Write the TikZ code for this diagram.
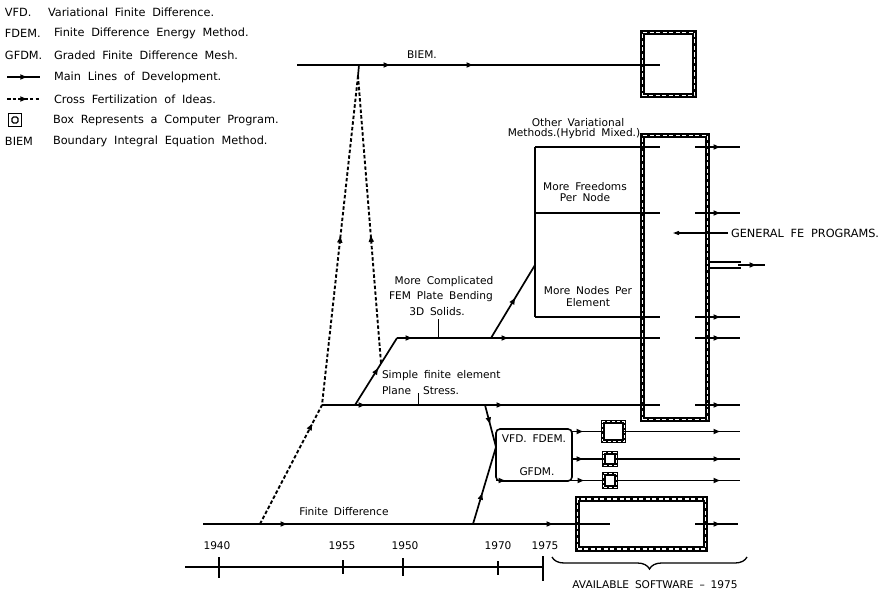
\documentclass[tikz,border=0pt]{standalone}
\usepackage{fontspec}
\setmainfont{DejaVu Sans}
\usetikzlibrary{arrows.meta,decorations.markings,decorations.pathreplacing,calc}
\newcommand\dlfont{\fontsize{10.6}{12}\selectfont\spaceskip=0.55em plus 0.1em\relax}
\newcommand\dlbigfont{\fontsize{11.3}{12}\selectfont\spaceskip=0.6em plus 0.1em\relax}
\begin{document}
\begin{tikzpicture}[x=1pt,y=-1pt,
  every node/.style={inner sep=0pt, outer sep=0pt},
  lab/.style={font=\dlfont},
  leg/.style={font=\dlbigfont, anchor=west},
  main/.style={line width=1.7pt},
  cross/.style={line width=1.9pt, dash pattern=on 3.5pt off 2.2pt},
  mk/.style={postaction={decorate,decoration={markings,mark=at position #1 with {\arrow{Triangle[length=6.5pt,width=5pt]}}}}},
  hbox/.style={draw, line width=5.5pt, postaction={draw=white, line width=1.8pt, dash pattern=on 4pt off 2.5pt}},
  sbox/.style={draw, line width=3.8pt, postaction={draw=white, line width=1.3pt, dash pattern=on 3pt off 2pt}},
  rbox/.style={draw, line width=1.6pt, rounded corners=4pt},
]
\useasboundingbox (0,0) rectangle (880,594);

% ---------------- legend
\node[leg] (lg1a) at (5,12) {VFD.};
\node[leg] (lg1b) at (48,12) {Variational Finite Difference.};
\node[leg] (lg2a) at (5,33) {FDEM.};
\node[leg] (lg2b) at (54,33) {Finite Difference Energy Method.};
\node[leg] (lg3a) at (5,55) {GFDM.};
\node[leg] (lg3b) at (54,55) {Graded Finite Difference Mesh.};
\coordinate (lg4s) at (7,77); \coordinate (lg4e) at (40,77);
\draw[main,mk=0.6] (lg4s) -- (lg4e);
\node[leg] (lg4b) at (54,77) {Main Lines of Development.};
\coordinate (lg5s) at (7,99); \coordinate (lg5e) at (40,99);
\draw[cross,mk=0.6] (lg5s) -- (lg5e);
\node[leg] (lg5b) at (54,99) {Cross Fertilization of Ideas.};
\node[draw,line width=1.5pt,minimum width=13pt,minimum height=13pt] (lg6s) at (15,120) {};
\node[draw,line width=1.2pt,rounded corners=1.5pt,minimum width=6pt,minimum height=6pt] (lg6i) at (lg6s.center) {};
\node[leg] (lg6b) at (53,120) {Box Represents a Computer Program.};
\node[leg] (lg7a) at (5,141) {BIEM};
\node[leg] (lg7b) at (53,141) {Boundary Integral Equation Method.};

% ---------------- boxes
\node[hbox,minimum width=52pt,minimum height=63pt] (topbox) at (668.5,64) {};
\node[hbox,minimum width=65pt,minimum height=284pt] (big) at (675,277.5) {};
\node[sbox,minimum width=21.5pt,minimum height=19.5pt] (s1) at (613.5,431.5) {};
\node[sbox,minimum width=12.5pt,minimum height=12.5pt] (s2) at (610,459) {};
\node[sbox,minimum width=12.5pt,minimum height=13.5pt] (s3) at (610,480.5) {};
\node[hbox,minimum width=128pt,minimum height=50pt] (bot) at (641.5,524) {};
\node[rbox,minimum width=76pt,minimum height=52pt] (vfd) at (534,455) {};
\node[lab] (vfdt1) at (534,439) {VFD. FDEM.};
\node[lab] (vfdt2) at (537,472) {GFDM.};

% ---------------- BIEM line
\coordinate (b0) at (297,65);
\coordinate (b1) at (660,65);
\draw[main,mk=93pt,mk=176pt] (b0) -- (b1);
\node[lab] (biem) at (422,55) {BIEM.};
\coordinate (t0) at (359,65);
\coordinate (t1) at (358,76);
\draw[main] (t0) -- (t1);

% ---------------- cross fertilization
\coordinate (fdx) at (260,524);
\coordinate (fe0) at (322,405);
\coordinate (dr0) at (381,363);
\draw[cross,mk=113pt,mk=304pt] (fdx) -- (fe0) -- (t1);
\draw[cross,mk=128pt] (dr0) -- (t1);

% ---------------- finite element lines
\coordinate (fe1) at (660,405);
\draw[main,mk=43pt,mk=181pt] (fe0) -- (fe1);
\coordinate (d1a) at (355,405);
\coordinate (d1b) at (397,338);
\draw[main,mk=0.55] (d1a) -- (d1b);
\coordinate (up1) at (660,338);
\draw[main,mk=15pt,mk=111pt] (d1b) -- (up1);
\coordinate (d2a) at (491,338);
\coordinate (d2b) at (535,265);
\draw[main,mk=0.55] (d2a) -- (d2b);
\coordinate (v0) at (535,147);
\coordinate (v1) at (535,317);
\coordinate (v2) at (535,213);
\draw[main] (v0) -- (v1);
\coordinate (h1) at (660,147);
\coordinate (h2) at (660,213);
\coordinate (h3) at (660,317);
\draw[main] (v0) -- (h1);
\draw[main] (v2) -- (h2);
\draw[main] (v1) -- (h3);

% labels on the FE lines
\node[lab] (ov1) at (578,123) {Other Variational};
\node[lab] (ov2) at (574,134) {Methods.(Hybrid Mixed.)};
\node[lab] (mf1) at (585,187) {More Freedoms};
\node[lab] (mf2) at (585,198) {Per Node};
\node[lab] (mn1) at (588,291) {More Nodes Per};
\node[lab] (mn2) at (588,303) {Element};
\node[lab] (mc1) at (444,282) {More Complicated};
\node[lab] (mc2) at (441,297) {FEM Plate Bending};
\node[lab] (mc3) at (437,312) {3D Solids.};
\coordinate (mct0) at (438,319); \coordinate (mct1) at (438,338);
\draw[line width=1pt] (mct0) -- (mct1);
\node[lab,anchor=west] (sf1) at (382,376) {Simple finite element};
\node[lab,anchor=west] (sf2) at (382,391) {Plane\hspace{12pt}Stress.};
\coordinate (sft0) at (418,393); \coordinate (sft1) at (418,405);
\draw[line width=1pt] (sft0) -- (sft1);

% ---------------- VFD branch
\coordinate (d4a) at (485,405);
\coordinate (vl) at (496,447);
\draw[main,mk=0.45] (d4a) -- (vl);
\coordinate (d3a) at (473,524);
\draw[main,mk=0.4] (d3a) -- (vl);
\draw[main,mk=11pt] (vfd.east |- s1.west) -- (s1.west);
\draw[main,mk=11pt] (vfd.east |- s2.west) -- (s2.west);
\draw[main,mk=9pt,mk=88pt] (vfd.west |- s3.west) -- (s3.west);
\coordinate (r1) at (740,431.5);
\coordinate (r2) at (740,459);
\coordinate (r3) at (740,480.5);
\draw[main,mk=-20pt] (s1.east) -- (r1);
\draw[main,mk=-20pt] (s2.east) -- (r2);
\draw[main,mk=-20pt] (s3.east) -- (r3);

% ---------------- finite difference line
\coordinate (fd0) at (203,524);
\coordinate (fd1) at (610,524);
\draw[main,mk=84pt,mk=350pt] (fd0) -- (fd1);
\node[lab] (fdl) at (344,512) {Finite Difference};
\coordinate (bo0) at (695,524); \coordinate (bo1) at (738,524);
\draw[main,mk=-18pt] (bo0) -- (bo1);

% ---------------- outputs of general programs
\foreach \yy [count=\i] in {147,213,317,338,405} {
  \coordinate (ra\i) at (695,\yy);
  \coordinate (rb\i) at (740,\yy);
  \draw[main,mk=-20pt] (ra\i) -- (rb\i);
}
\coordinate (g0) at (728,233); \coordinate (g1) at (673,233);
\draw[line width=1.1pt,-{Triangle[length=6pt,width=4pt]}] (g0) -- (g1);
\node[leg] (gen) at (731,233) {GENERAL FE PROGRAMS.};
\coordinate (dd0) at (710,262); \coordinate (dd1) at (741,262);
\coordinate (dd2) at (710,268); \coordinate (dd3) at (741,268);
\draw[line width=1.2pt] (dd0) -- (dd1);
\draw[line width=1.2pt] (dd2) -- (dd3);
\coordinate (de0) at (738,265); \coordinate (de1) at (765,265);
\draw[main,mk=-9pt] (de0) -- (de1);

% ---------------- time axis
\coordinate (ax0) at (185,567); \coordinate (ax1) at (543,567);
\draw[main] (ax0) -- (ax1);
\foreach \xx/\ya/\yb [count=\i] in {219/557/578, 343/560/574, 403/558/576, 498/561/575, 543/556/581} {
  \coordinate (tk\i a) at (\xx,\ya);
  \coordinate (tk\i b) at (\xx,\yb);
  \draw[main] (tk\i a) -- (tk\i b);
}
\node[lab] (y1) at (217,546) {1940};
\node[lab] (y2) at (342,546) {1955};
\node[lab] (y3) at (405,546) {1950};
\node[lab] (y4) at (498,546) {1970};
\node[lab] (y5) at (545,546) {1975};
\coordinate (br0) at (552,557); \coordinate (br1) at (747,557);
\draw[line width=1.3pt, decorate, decoration={brace, amplitude=12pt, mirror}] (br0) -- (br1);
\node[lab] (avs) at (655,585) {AVAILABLE SOFTWARE -- 1975};
\end{tikzpicture}
\end{document}
